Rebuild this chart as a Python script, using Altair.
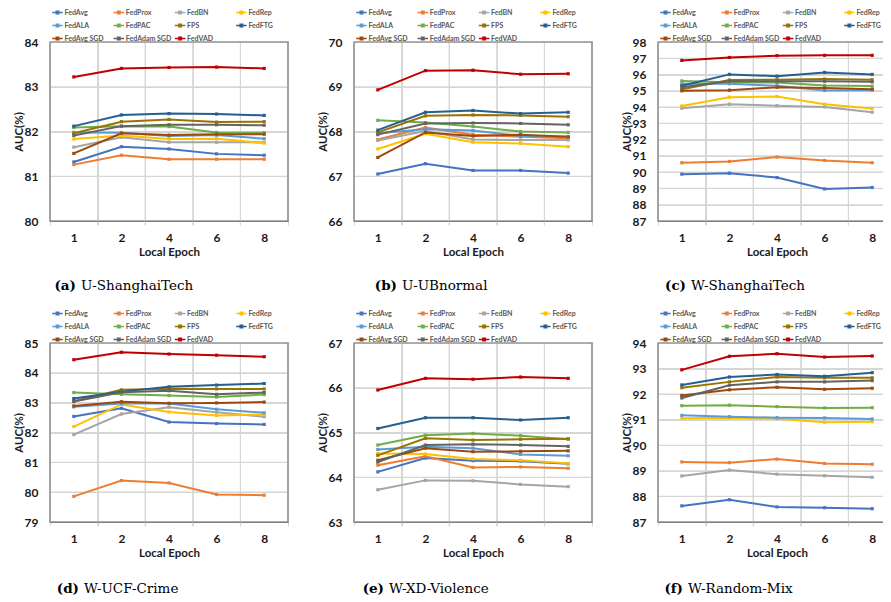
import altair as alt
import pandas as pd

epochs = ["1", "2", "4", "6", "8"]
methods = ["FedAvg", "FedProx", "FedBN", "FedRep", "FedALA", "FedPAC", "FPS",
           "FedFTG", "FedAvg SGD", "FedAdam SGD", "FedVAD"]
colors = ["#4472C4", "#ED7D31", "#A5A5A5", "#FFC000", "#5B9BD5", "#70AD47",
          "#997300", "#255E91", "#9E480E", "#636363", "#C00000"]

panel_letters = ["(a)", "(b)", "(c)", "(d)", "(e)", "(f)"]
panel_names = ["U-ShanghaiTech", "U-UBnormal", "W-ShanghaiTech",
               "W-UCF-Crime", "W-XD-Violence", "W-Random-Mix"]
y_domains = [(80, 84), (66, 70), (87, 98), (79, 85), (63, 67), (87, 94)]

u_shanghaitech = {
    "FedAvg":      [81.32, 81.66, 81.61, 81.50, 81.47],
    "FedProx":     [81.26, 81.47, 81.38, 81.38, 81.38],
    "FedBN":       [81.65, 81.87, 81.76, 81.76, 81.76],
    "FedRep":      [81.83, 81.91, 81.83, 81.84, 81.74],
    "FedALA":      [81.98, 81.97, 81.90, 81.92, 81.84],
    "FedPAC":      [82.09, 82.12, 82.11, 81.98, 81.97],
    "FPS":         [81.96, 82.22, 82.27, 82.21, 82.22],
    "FedFTG":      [82.12, 82.37, 82.40, 82.39, 82.36],
    "FedAvg SGD":  [81.51, 81.96, 81.92, 81.94, 81.94],
    "FedAdam SGD": [81.91, 82.12, 82.15, 82.15, 82.14],
    "FedVAD":      [83.22, 83.41, 83.43, 83.44, 83.41],
}
u_ubnormal = {
    "FedAvg":      [67.05, 67.28, 67.13, 67.13, 67.07],
    "FedProx":     [67.82, 68.09, 67.93, 67.88, 67.85],
    "FedBN":       [67.80, 68.01, 67.82, 67.81, 67.81],
    "FedRep":      [67.61, 67.95, 67.76, 67.73, 67.66],
    "FedALA":      [67.96, 68.05, 68.02, 67.90, 67.88],
    "FedPAC":      [68.25, 68.20, 68.11, 68.00, 67.98],
    "FPS":         [67.98, 68.35, 68.37, 68.36, 68.33],
    "FedFTG":      [68.03, 68.43, 68.47, 68.40, 68.43],
    "FedAvg SGD":  [67.42, 67.98, 67.90, 67.93, 67.88],
    "FedAdam SGD": [67.93, 68.18, 68.19, 68.18, 68.15],
    "FedVAD":      [68.93, 69.36, 69.37, 69.28, 69.29],
}
w_shanghaitech = {
    "FedAvg":      [89.88, 89.94, 89.67, 88.97, 89.06],
    "FedProx":     [90.58, 90.66, 90.93, 90.72, 90.58],
    "FedBN":       [93.93, 94.18, 94.09, 94.01, 93.68],
    "FedRep":      [94.07, 94.61, 94.65, 94.18, 93.91],
    "FedALA":      [95.43, 95.43, 95.31, 95.02, 95.04],
    "FedPAC":      [95.61, 95.53, 95.51, 95.33, 95.29],
    "FPS":         [95.10, 95.66, 95.68, 95.72, 95.68],
    "FedFTG":      [95.31, 96.01, 95.90, 96.13, 96.01],
    "FedAvg SGD":  [95.00, 95.04, 95.22, 95.18, 95.10],
    "FedAdam SGD": [95.22, 95.59, 95.59, 95.59, 95.55],
    "FedVAD":      [96.87, 97.05, 97.16, 97.18, 97.18],
}
w_ucf_crime = {
    "FedAvg":      [82.54, 82.81, 82.35, 82.30, 82.27],
    "FedProx":     [79.86, 80.39, 80.31, 79.92, 79.90],
    "FedBN":       [81.93, 82.62, 82.85, 82.68, 82.53],
    "FedRep":      [82.20, 82.94, 82.69, 82.57, 82.60],
    "FedALA":      [82.86, 82.97, 82.97, 82.78, 82.66],
    "FedPAC":      [83.34, 83.28, 83.24, 83.19, 83.27],
    "FPS":         [83.05, 83.43, 83.47, 83.46, 83.46],
    "FedFTG":      [83.14, 83.37, 83.53, 83.59, 83.64],
    "FedAvg SGD":  [82.89, 83.03, 82.98, 82.99, 83.02],
    "FedAdam SGD": [83.04, 83.35, 83.40, 83.28, 83.34],
    "FedVAD":      [84.44, 84.69, 84.63, 84.59, 84.54],
}
w_xd_violence = {
    "FedAvg":      [64.12, 64.43, 64.37, 64.36, 64.30],
    "FedProx":     [64.27, 64.47, 64.22, 64.23, 64.20],
    "FedBN":       [63.72, 63.93, 63.92, 63.84, 63.79],
    "FedRep":      [64.53, 64.52, 64.41, 64.38, 64.31],
    "FedALA":      [64.62, 64.68, 64.65, 64.51, 64.48],
    "FedPAC":      [64.72, 64.94, 64.98, 64.93, 64.85],
    "FPS":         [64.49, 64.87, 64.83, 64.85, 64.86],
    "FedFTG":      [65.09, 65.33, 65.33, 65.28, 65.33],
    "FedAvg SGD":  [64.38, 64.65, 64.57, 64.58, 64.59],
    "FedAdam SGD": [64.34, 64.72, 64.74, 64.72, 64.69],
    "FedVAD":      [65.95, 66.21, 66.19, 66.24, 66.21],
}
w_random_mix = {
    "FedAvg":      [87.63, 87.87, 87.59, 87.56, 87.52],
    "FedProx":     [89.35, 89.32, 89.46, 89.29, 89.26],
    "FedBN":       [88.80, 89.03, 88.87, 88.81, 88.75],
    "FedRep":      [91.06, 91.08, 91.04, 90.90, 90.92],
    "FedALA":      [91.17, 91.12, 91.08, 91.07, 91.03],
    "FedPAC":      [91.55, 91.57, 91.51, 91.46, 91.47],
    "FPS":         [92.25, 92.48, 92.67, 92.64, 92.64],
    "FedFTG":      [92.36, 92.67, 92.77, 92.70, 92.84],
    "FedAvg SGD":  [91.95, 92.17, 92.27, 92.19, 92.23],
    "FedAdam SGD": [91.85, 92.35, 92.48, 92.48, 92.53],
    "FedVAD":      [92.95, 93.48, 93.58, 93.45, 93.49],
}
panels = [u_shanghaitech, u_ubnormal, w_shanghaitech,
          w_ucf_crime, w_xd_violence, w_random_mix]

# layout (pixels)
PW, PH = 238, 179
TICK = 4                              # tick length below the x axis
cap_x = [26, 43, 28, 29, 30, 25]     # right edge of the bold "(x)" part
cap_y = [244, 244, 244, 246, 246, 246]

FONT = "Lato"
FRAME = "#7f7f7f"
GRID = "#d6d6d6"
NB = len(epochs)


def y_enc(lo, hi, field="auc"):
    return alt.Y(f"{field}:Q",
                 scale=alt.Scale(domain=[lo, hi], nice=False, zero=False),
                 axis=alt.Axis(title="AUC(%)", values=list(range(lo, hi + 1)),
                               grid=True, gridColor=GRID, ticks=False, domain=False,
                               labelPadding=12, titlePadding=0))


def guide_layers(lo, hi):
    # grid lines at the band edges and at every integer, plus the plot frame
    dy = TICK * (hi - lo) / PH
    g = []
    for v in range(lo + 1, hi):
        g.append((0, v, NB, v))
    for k in range(1, NB):
        g.append((k, lo - dy, k, hi))
    gdf = pd.DataFrame(g, columns=["gx", "auc", "gx2", "auc2"])
    bdf = pd.DataFrame([(0, lo, NB, hi)], columns=["gx", "auc", "gx2", "auc2"])
    xs = alt.Scale(domain=[0, NB], nice=False, zero=False)
    grid = alt.Chart(gdf).mark_rect(
        fill=None, filled=False, stroke=GRID, strokeWidth=1.2).encode(
        x=alt.X("gx:Q", scale=xs, axis=None), x2="gx2:Q",
        y=y_enc(lo, hi), y2="auc2:Q")
    frame = alt.Chart(bdf).mark_rect(
        fill=None, filled=False, stroke=FRAME, strokeWidth=1.2).encode(
        x=alt.X("gx:Q", scale=xs, axis=None), x2="gx2:Q",
        y=y_enc(lo, hi), y2="auc2:Q")
    return grid, frame


def panel(i):
    vals = panels[i]
    rows = [(m, e, v) for m in methods for e, v in zip(epochs, vals[m])]
    df = pd.DataFrame(rows, columns=["method", "epoch", "auc"])
    lo, hi = y_domains[i]
    grid, frame = guide_layers(lo, hi)
    lines = alt.Chart(df).mark_line(
        strokeWidth=2,
        point=alt.OverlayMarkDef(shape="square", size=10, filled=True),
    ).encode(
        x=alt.X("epoch:O", sort=epochs, bandPosition=0.5,
                scale=alt.Scale(type="band", paddingInner=0, paddingOuter=0),
                axis=alt.Axis(title="Local Epoch", labelAngle=0, tickBand="extent",
                              grid=True, gridColor=GRID, ticks=True, tickSize=TICK,
                              tickColor=GRID, domain=True, domainColor=FRAME,
                              labelPadding=7, titlePadding=3)),
        y=y_enc(lo, hi),
        color=alt.Color("method:N", sort=methods,
                        scale=alt.Scale(domain=methods, range=colors),
                        legend=alt.Legend(
                            title=None, orient="none", legendX=1, legendY=-36,
                            columns=4, gridAlign="all", direction="horizontal",
                            symbolType="M-1,0H1M-0.22,-0.22H0.22V0.22H-0.22Z",
                            symbolSize=110, symbolStrokeWidth=1.6,
                            labelFont=FONT, labelFontSize=7.0, labelFontWeight="bold",
                            labelColor="#595959", labelOffset=0.5,
                            rowPadding=2.0, columnPadding=0.3, padding=0)),
    )
    cap = pd.DataFrame({"letter": [panel_letters[i]], "name": [panel_names[i]]})
    letter = alt.Chart(cap).mark_text(
        font="DejaVu Serif", fontWeight="bold", fontSize=13.5,
        align="right", baseline="middle", color="black",
    ).encode(text="letter:N", x=alt.value(cap_x[i]), y=alt.value(cap_y[i]))
    name = alt.Chart(cap).mark_text(
        font="DejaVu Serif", fontSize=13.5,
        align="left", baseline="middle", color="black",
    ).encode(text="name:N", x=alt.value(cap_x[i] + 5), y=alt.value(cap_y[i]))
    return alt.layer(grid, frame, lines, letter, name).resolve_scale(
        x="independent").properties(width=PW, height=PH)


def row(idx):
    return alt.hconcat(*[panel(i) for i in idx], spacing=26).resolve_scale(
        color="independent").resolve_legend(color="independent")


chart = alt.vconcat(row([0, 1, 2]), row([3, 4, 5]), spacing=12).resolve_scale(
    color="independent").resolve_legend(color="independent").properties(
    padding={"left": 4, "top": -3, "right": -15, "bottom": -1}
).configure(font=FONT).configure_view(
    stroke=FRAME, strokeWidth=1.2
).configure_axis(
    labelFont=FONT, labelFontSize=12, labelFontWeight="bold", labelColor="#1a1a1a",
    titleFont=FONT, titleFontSize=11.5, titleFontWeight="bold", titleColor="#1a1a1a",
)

chart.save("out.html", embed_options={"renderer": "svg", "actions": False})
